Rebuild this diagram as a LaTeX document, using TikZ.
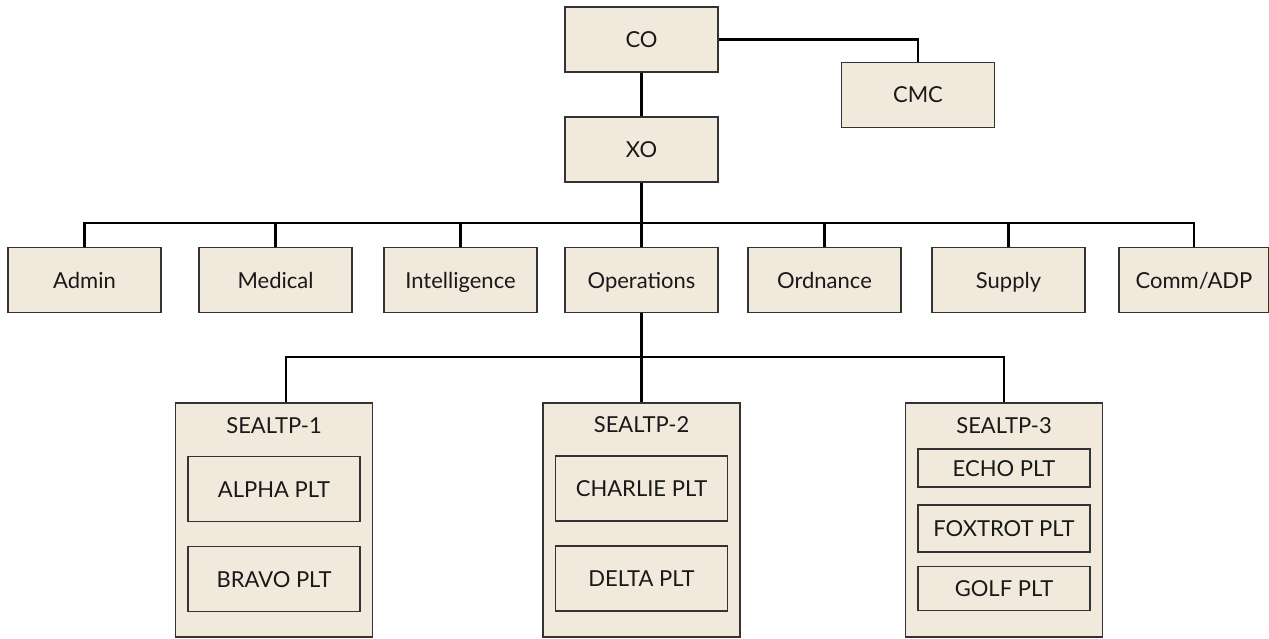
\documentclass[tikz,border=0pt]{standalone}
\usepackage{fontspec}
\setmainfont{Lato}
\definecolor{boxfill}{HTML}{F1E9DB}
\definecolor{boxline}{HTML}{333333}

\begin{document}
\begin{tikzpicture}[x=1pt,y=-1pt,
  every node/.style={font=\fontsize{22}{26}\selectfont, text=black!90,
    text height=20pt, text depth=4pt},
  unit/.style={draw=boxline, fill=boxfill, line width=1.2pt,
    minimum width=153pt, minimum height=65pt, inner sep=0pt},
  plt/.style={unit, minimum width=172pt},
  team/.style={unit, minimum width=197pt, minimum height=234pt},
  link/.style={line width=2.2pt, black}]

\useasboundingbox (0,0) rectangle (1269,639);

% Command group
\node[unit] (co)  at (641.5,39.5)  {CO};
\node[unit] (cmc) at (918,95)      {CMC};
\node[unit] (xo)  at (641.5,149.5) {XO};

% Staff departments
\node[unit] (admin)    at (84.5,280)   {Admin};
\node[unit] (medical)  at (275.5,280)  {Medical};
\node[unit] (intel)    at (460.5,280)  {Intelligence};
\node[unit] (ops)      at (641.5,280)  {Operations};
\node[unit] (ordnance) at (824.5,280)  {Ordnance};
\node[unit] (supply)   at (1008.5,280) {Supply};
\node[unit, minimum width=150pt] (comm) at (1194,280) {Comm/ADP};

% Troop 1
\node[team] (tp1) at (274,520) {};
\node (tp1title) at (274,425) {SEALTP-1};
\node[plt] (alpha) at (274,489) {ALPHA PLT};
\node[plt] (bravo) at (274,579) {BRAVO PLT};

% Troop 2
\node[team] (tp2) at (641.5,520) {};
\node (tp2title) at (641.5,424) {SEALTP-2};
\node[plt] (charlie) at (641.5,488.5) {CHARLIE PLT};
\node[plt] (delta)   at (641.5,578.5) {DELTA PLT};

% Troop 3
\node[team] (tp3) at (1004,520) {};
\node (tp3title) at (1004,425) {SEALTP-3};
\node[plt, minimum height=38pt]   (echo)    at (1004,468)   {ECHO PLT};
\node[plt, minimum height=47pt]   (foxtrot) at (1004,528.5) {FOXTROT PLT};
\node[plt, minimum height=43.5pt] (golf)    at (1004,588.5) {GOLF PLT};

% Command links
\draw[link] (co.east) -| (cmc.north);
\draw[link] (co.south) -- (xo.north);

% XO to departments
\coordinate (deptbus) at (641.5,223);
\draw[link] (xo.south) -- (deptbus);
\draw[link] (admin.north)    |- (deptbus);
\draw[link] (medical.north)  |- (deptbus);
\draw[link] (intel.north)    |- (deptbus);
\draw[link] (ops.north)      -- (deptbus);
\draw[link] (ordnance.north) |- (deptbus);
\draw[link] (supply.north)   |- (deptbus);
\draw[link] (comm.north)     |- (deptbus);

% Operations to troops
\coordinate (teambus) at (641.5,357);
\draw[link] (ops.south) -- (teambus);
\draw[link] ([xshift=12pt]tp1.north) |- (teambus);
\draw[link] (tp2.north) -- (teambus);
\draw[link] (tp3.north) |- (teambus);

\end{tikzpicture}
\end{document}
